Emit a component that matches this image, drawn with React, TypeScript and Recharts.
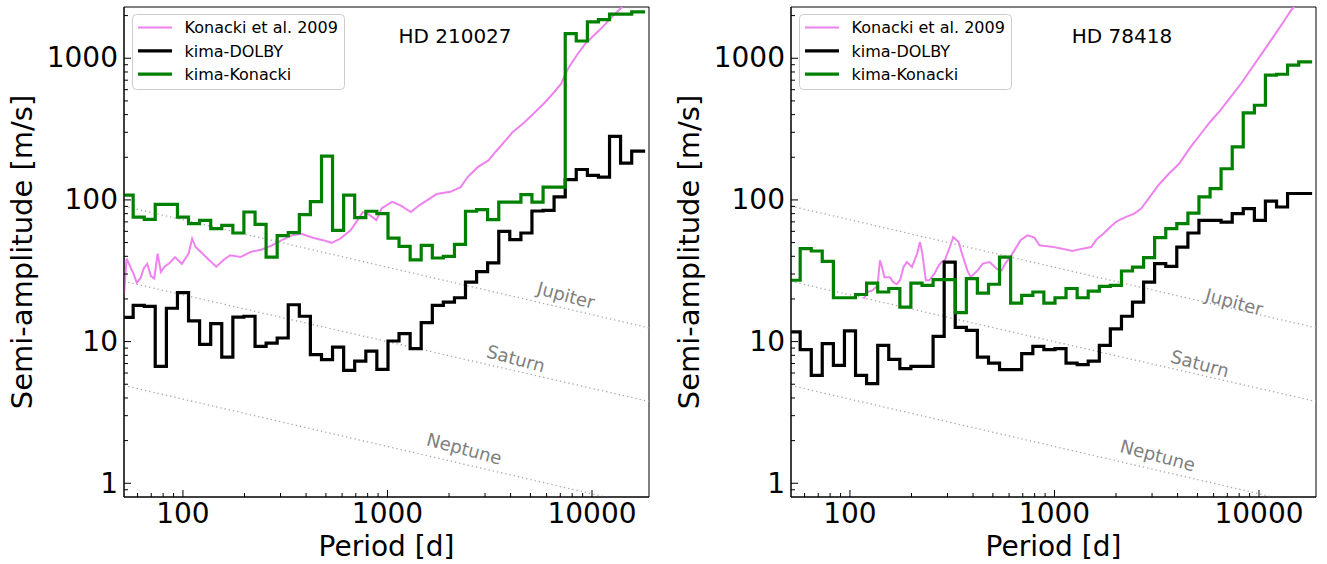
import React from 'react';
import { LineChart, Line, XAxis, YAxis, ReferenceArea, ReferenceDot, Legend } from 'recharts';

const FONT = '"DejaVu Sans", "Liberation Sans", sans-serif';

// kima bins (period edges, days) - last entry is where the step line ends
const periodEdges = [
  51.6, 57.1, 64.7, 73.2, 83.0, 94.0, 106.5, 120.6, 136.7, 154.8, 175.4, 198.6, 225.2, 255.0, 288.9, 327.2,
  370.8, 419.8, 475.9, 538.8, 610.6, 691.4, 783.8, 887.3, 1006, 1139, 1291, 1462, 1657, 1876, 2126, 2407,
  2728, 3088, 3501, 3963, 4492, 5086, 5766, 6526, 7399, 8375, 9495, 10750, 12185, 13795, 15638, 18190,
];

// HD 210027
const dolbyA = [
  14.8, 18.0, 17.7, 6.68, 17.2, 22.2, 14.0, 9.55, 13.4, 7.78, 14.9, 15.1, 9.25, 9.76, 10.6, 18.2, 15.1, 8.08,
  7.45, 9.14, 6.26, 7.28, 8.57, 6.36, 10.1, 11.4, 8.91, 13.6, 18.0, 19.0, 20.4, 26.3, 31.2, 35.9, 60, 52.5,
  58.4, 83.5, 84.5, 105, 139, 164, 149, 145, 281, 182, 221,
];
const kimaKonackiA = [
  108, 75.7, 72.9, 93.1, 93.1, 75.7, 68.0, 71.8, 62.7, 66.2, 58.4, 82.2, 67.3, 39.5, 56.0, 58.8, 78.7, 97.3,
  204, 61.0, 108, 75, 83.2, 80, 53.8, 47, 37.8, 47.8, 38.9, 40, 48.6, 83.2, 85.4, 72.6, 96.6, 96.6, 109, 96.6,
  123, 123, 1494, 1324, 1804, 1875, 2046, 2046, 2123,
];
const konackiPeriodsA = [
  51.6, 53, 57.3, 59.5, 62, 64.4, 66.9, 69.7, 72.4, 75.2, 78, 81.3, 86.3, 91.4, 98.8, 106.6, 110.9, 115.3,
  124.6, 134.6, 145.5, 157.3, 170, 191, 214.5, 241, 270.7, 304, 341.6, 376.4, 431, 484, 533, 588, 660, 714,
  757, 801, 883, 935, 1053, 1158, 1302, 1431, 1609, 1739, 2029, 2280, 2465, 2772, 3118, 3372, 3790, 4099,
  4607, 5186, 5819, 6540, 7067, 7646, 8425, 9282, 10440, 11290, 12520, 13800, 17400,
];
const konackiAmpA = [
  21.8, 38.5, 30.2, 26, 28, 33, 35.4, 29, 27.9, 41.8, 31, 33.8, 36, 39.5, 35.4, 41.8, 53.3, 46.5, 41.8, 37.5,
  33.8, 37.5, 40.7, 39.5, 43, 44.5, 47.6, 52, 56.2, 57.8, 54.1, 52, 49.8, 53.3, 61, 72, 82, 80, 72, 87, 96.8,
  91.6, 82, 91.6, 102, 110, 114, 123, 145, 171, 190, 218, 264, 302, 346, 407, 479, 578, 662, 846, 1050, 1270,
  1494, 1664, 1958, 2245, 3200,
];

// HD 78418
const dolbyB = [
  11.7, 8.77, 5.77, 9.66, 6.79, 11.9, 5.77, 5.05, 9.4, 7.48, 6.44, 6.68, 6.68, 10.9, 36.4, 12.6, 12.0, 7.78,
  7.05, 6.34, 6.34, 8.22, 9.25, 8.77, 8.91, 7.05, 6.87, 7.28, 9.4, 12.3, 15.1, 19.0, 26.3, 35.5, 34, 46.5,
  58.4, 71.8, 71.8, 69.8, 80, 86.9, 71.8, 98.2, 89.1, 111, 111,
];
const kimaKonackiB = [
  27.1, 45.3, 43.6, 36.8, 20.4, 20.4, 21.5, 25.9, 22.4, 23.7, 17.5, 25.9, 24.9, 27.4, 27.4, 16.0, 27.8, 22.0,
  25.4, 39.5, 18.7, 21.2, 22.4, 18.7, 20.4, 23.7, 20.4, 22.7, 24.5, 24.9, 31.5, 33.6, 39.1, 54.2, 62.7, 68.0,
  80.7, 105, 120, 166, 237, 411, 466, 759, 771, 893, 942,
];
const konackiPeriodsB = [
  117, 121.6, 128.9, 136.5, 140.2, 143.5, 147.5, 156.5, 162.7, 169, 175.8, 182.8, 189.9, 201, 213, 220, 226,
  235, 244, 259, 269, 280, 291, 308, 320, 340, 353, 375, 389, 421, 446, 482, 521, 552, 574, 608, 645, 683,
  738, 798, 845, 968, 1088, 1222, 1373, 1513, 1603, 1733, 1874, 2025, 2228, 2455, 2654, 2926, 3223, 3622,
  4068, 4570, 5130, 5763, 6486, 7280, 8179, 9190, 10320, 11590, 13020, 14350, 18000,
];
const konackiAmpB = [
  20.1, 22.4, 23.0, 24.9, 37.5, 33.6, 28.5, 28.5, 26.3, 25.4, 27.1, 33.6, 36.4, 33.6, 41.8, 50.4, 41.8, 27.1,
  27.1, 30.2, 33.6, 36.4, 37.5, 46.5, 54.7, 50.4, 41.8, 31.8, 28.5, 31.8, 35.5, 36.4, 32.7, 31.8, 35.5, 39.5,
  45.3, 51.9, 56.2, 54.2, 47.8, 46.8, 45.3, 43.6, 45.3, 46.5, 52.5, 57.8, 64.4, 71, 75.7, 80, 86.9, 105, 127,
  153, 180, 230, 286, 355, 430, 533, 663, 846, 1079, 1377, 1758, 2183, 3100,
];

// planet reference lines (K for a given mass vs period)
const planetPeriods = [51.5, 19000];
const jupiterK = [90.4, 12.5];
const saturnK = [26.6, 3.78];
const neptuneK = [4.9, 0.68];

const planetNames = ['Jupiter', 'Saturn', 'Neptune'];
const labelPeriodsA = [7464, 4246, 2374];
const labelAmpA = [21.2, 7.57, 1.75];
const labelPeriodsB = [7570, 5140, 3200];
const labelAmpB = [19, 6.98, 1.57];

const xTicks = [60, 70, 80, 90, 100, 200, 300, 400, 500, 600, 700, 800, 900, 1000, 2000, 3000, 4000, 5000, 6000, 7000, 8000, 9000, 10000];
const yTicks = [0.9, 1, 2, 3, 4, 5, 6, 7, 8, 9, 10, 20, 30, 40, 50, 60, 70, 80, 90, 100, 200, 300, 400, 500, 600, 700, 800, 900, 1000, 2000];
const xMajor = [100, 1000, 10000];
const yMajor = [1, 10, 100, 1000];

const X_DOMAIN = [51.5, 19000];
const Y_DOMAIN = [0.8, 2300];

const steps = (edges: number[], vals: number[]) =>
  edges.map((P, i) => ({ P, K: vals[Math.min(i, vals.length - 1)] }));
const zip = (ps: number[], ks: number[]) => ps.map((P, i) => ({ P, K: ks[i] }));

const XTick = (props: any) => {
  const { x, y, payload } = props;
  const major = xMajor.includes(payload.value);
  return (
    <g>
      <line x1={x} x2={x} y1={y} y2={y - (major ? 7 : 4)} stroke="#000" strokeWidth={1} />
      {major && (
        <text x={x} y={y + 26} textAnchor="middle" fontSize={28} fontFamily={FONT} fill="#000">
          {payload.value}
        </text>
      )}
    </g>
  );
};

const YTick = (props: any) => {
  const { x, y, payload } = props;
  const major = yMajor.includes(payload.value);
  return (
    <g>
      <line x1={x} x2={x + (major ? 7 : 4)} y1={y} y2={y} stroke="#000" strokeWidth={1} />
      {major && (
        <text x={x - 6} y={y} dy="0.33em" textAnchor="end" fontSize={28} fontFamily={FONT} fill="#000">
          {payload.value}
        </text>
      )}
    </g>
  );
};

const legendRows = [
  { name: 'Konacki et al. 2009', color: '#ee82ee', width: 2 },
  { name: 'kima-DOLBY', color: '#000000', width: 3.2 },
  { name: 'kima-Konacki', color: '#008000', width: 3.2 },
];

const LegendBox = () => (
  <svg width={214} height={77}>
    <rect x={0.5} y={0.5} width={212} height={75} rx={4} fill="rgba(255,255,255,0.8)" stroke="#cccccc" />
    {legendRows.map((r, i) => (
      <g key={r.name}>
        <line x1={6} x2={40} y1={13.5 + i * 23.3} y2={13.5 + i * 23.3} stroke={r.color} strokeWidth={r.width} />
        <text x={52.5} y={19.3 + i * 23.3} fontSize={16} fontFamily={FONT} fill="#000">
          {r.name}
        </text>
      </g>
    ))}
  </svg>
);

interface PanelProps {
  title: string;
  dolby: number[];
  kimaKonacki: number[];
  konP: number[];
  konK: number[];
  labelP: number[];
  labelK: number[];
}

function Panel({ title, dolby, kimaKonacki, konP, konK, labelP, labelK }: PanelProps) {
  return (
    <div style={{ position: 'relative', width: 663, height: 564 }}>
      <LineChart width={663} height={564} margin={{ top: 7, right: 14, bottom: 0, left: 0 }}>
        <XAxis
          dataKey="P"
          type="number"
          scale="log"
          domain={X_DOMAIN}
          allowDataOverflow
          ticks={xTicks}
          interval={0}
          tick={<XTick />}
          tickLine={false}
          tickSize={0}
          tickMargin={0}
          height={67}
          axisLine={{ stroke: '#000' }}
          label={(p: any) => (
            <text
              x={p.viewBox.x + p.viewBox.width / 2}
              y={p.viewBox.y + 59}
              textAnchor="middle"
              fontSize={28}
              fontFamily={FONT}
              fill="#000"
            >
              Period [d]
            </text>
          )}
        />
        <YAxis
          type="number"
          scale="log"
          domain={Y_DOMAIN}
          allowDataOverflow
          ticks={yTicks}
          interval={0}
          tick={<YTick />}
          tickLine={false}
          tickSize={0}
          tickMargin={0}
          width={124}
          axisLine={{ stroke: '#000' }}
          label={(p: any) => (
            <text
              transform={`translate(32, ${p.viewBox.y + p.viewBox.height / 2}) rotate(-90)`}
              textAnchor="middle"
              fontSize={29}
              fontFamily={FONT}
              fill="#000"
            >
              Semi-amplitude [m/s]
            </text>
          )}
        />
        {[jupiterK, saturnK, neptuneK].map((ks, i) => (
          <Line
            key={planetNames[i]}
            data={zip(planetPeriods, ks)}
            dataKey="K"
            stroke="#a8a8a8"
            strokeWidth={1.3}
            strokeDasharray="1.3 3"
            dot={false}
            isAnimationActive={false}
            legendType="none"
          />
        ))}
        <Line
          data={zip(konP, konK)}
          dataKey="K"
          type="linear"
          stroke="#ee82ee"
          strokeWidth={2}
          dot={false}
          isAnimationActive={false}
        />
        <Line
          data={steps(periodEdges, dolby)}
          dataKey="K"
          type="stepAfter"
          stroke="#000"
          strokeWidth={3.2}
          dot={false}
          isAnimationActive={false}
        />
        <Line
          data={steps(periodEdges, kimaKonacki)}
          dataKey="K"
          type="stepAfter"
          stroke="#008000"
          strokeWidth={3.2}
          dot={false}
          isAnimationActive={false}
        />
        {planetNames.map((name, i) => (
          <ReferenceDot
            key={name}
            x={labelP[i]}
            y={labelK[i]}
            r={0}
            shape={(s: any) => (
              <text
                x={s.cx}
                y={s.cy}
                dy="0.35em"
                textAnchor="middle"
                transform={`rotate(15, ${s.cx}, ${s.cy})`}
                fontSize={18}
                fontFamily={FONT}
                fill="#808080"
              >
                {name}
              </text>
            )}
          />
        ))}
        <ReferenceArea
          x1={X_DOMAIN[0]}
          x2={X_DOMAIN[1]}
          y1={Y_DOMAIN[0]}
          y2={Y_DOMAIN[1]}
          fill="none"
          fillOpacity={0}
          stroke="#000"
          strokeWidth={1}
        />
        <Legend
          layout="vertical"
          align="center"
          verticalAlign="middle"
          content={() => <LegendBox />}
          wrapperStyle={{ left: 132, top: 14, width: 214, height: 77 }}
        />
      </LineChart>
      <svg width={663} height={60} style={{ position: 'absolute', left: 0, top: 0, pointerEvents: 'none' }}>
        <text x={455} y={43} textAnchor="middle" fontSize={20} fontFamily={FONT} fill="#000">
          {title}
        </text>
      </svg>
    </div>
  );
}

export default function App() {
  return (
    <div style={{ position: 'absolute', left: 0, top: 0, width: 1327, height: 564, background: '#fff' }}>
      <div style={{ position: 'absolute', left: 0, top: 0 }}>
        <Panel
          title="HD 210027"
          dolby={dolbyA}
          kimaKonacki={kimaKonackiA}
          konP={konackiPeriodsA}
          konK={konackiAmpA}
          labelP={labelPeriodsA}
          labelK={labelAmpA}
        />
      </div>
      <div style={{ position: 'absolute', left: 667, top: 0 }}>
        <Panel
          title="HD 78418"
          dolby={dolbyB}
          kimaKonacki={kimaKonackiB}
          konP={konackiPeriodsB}
          konK={konackiAmpB}
          labelP={labelPeriodsB}
          labelK={labelAmpB}
        />
      </div>
    </div>
  );
}
